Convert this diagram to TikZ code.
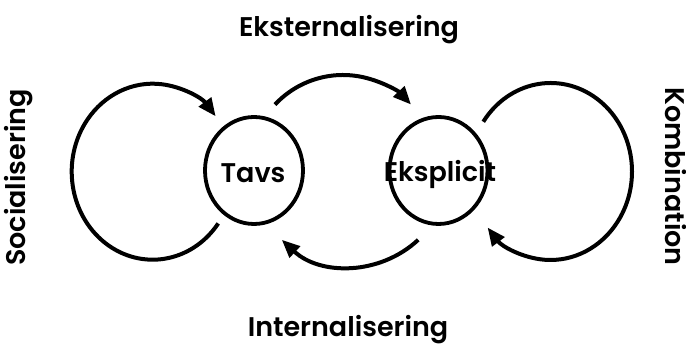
\documentclass[tikz,border=0pt]{standalone}
\usepackage{fontspec}
\setmainfont{Poppins SemiBold}
\usetikzlibrary{arrows.meta,shapes.geometric,calc}
\begin{document}
\begin{tikzpicture}[x=1pt,y=1pt,
  cycle/.style={line width=4pt, -{Triangle[length=18pt,width=15pt]}},
  knowledge/.style={draw, line width=3.8pt, ellipse, inner sep=0pt,
    minimum width=98pt, minimum height=107pt},
  wordlabel/.style={font=\fontsize{27}{30}\selectfont, inner sep=0pt, anchor=base}
]
\useasboundingbox (0,0) rectangle (686,347);

% the two kinds of knowledge
\node[knowledge] (tavs) at (254,176.5) {};
\node[knowledge] (eksplicit) at (438.5,176.5) {};
\node[wordlabel] (tavstext) at (253,164) {Tavs};
\node[wordlabel] (eksplicittext) at (440,165) {Eksplicit};

% start points of the four conversion arcs
\coordinate (soc) at ($(152.7,175.3)+(-36:81 and 88)$);
\coordinate (ext) at ($(343,179)+(137:93)$);
\coordinate (kom) at ($(550.6,175.5)+(145.8:81.4 and 88.5)$);
\coordinate (int) at ($(350,180.3)+(-47:100)$);

\draw[cycle] (soc) arc[start angle=-36, end angle=-321, x radius=81, y radius=88];
\draw[cycle] (ext) arc[start angle=137, end angle=43, radius=93];
\draw[cycle] (kom) arc[start angle=145.8, end angle=-140.7, x radius=81.4, y radius=88.5];
\draw[cycle] (int) arc[start angle=-47, end angle=-133, radius=100];

% names of the four modes
\node[wordlabel] (eksternalisering) at (349,310.3) {Eksternalisering};
\node[wordlabel] (internalisering) at (348,10.3) {Internalisering};
\node[wordlabel, rotate=90] (socialisering) at (25,169.5) {Socialisering};
\node[wordlabel, rotate=-90] (kombination) at (665,170.5) {Kombination};
\end{tikzpicture}
\end{document}
